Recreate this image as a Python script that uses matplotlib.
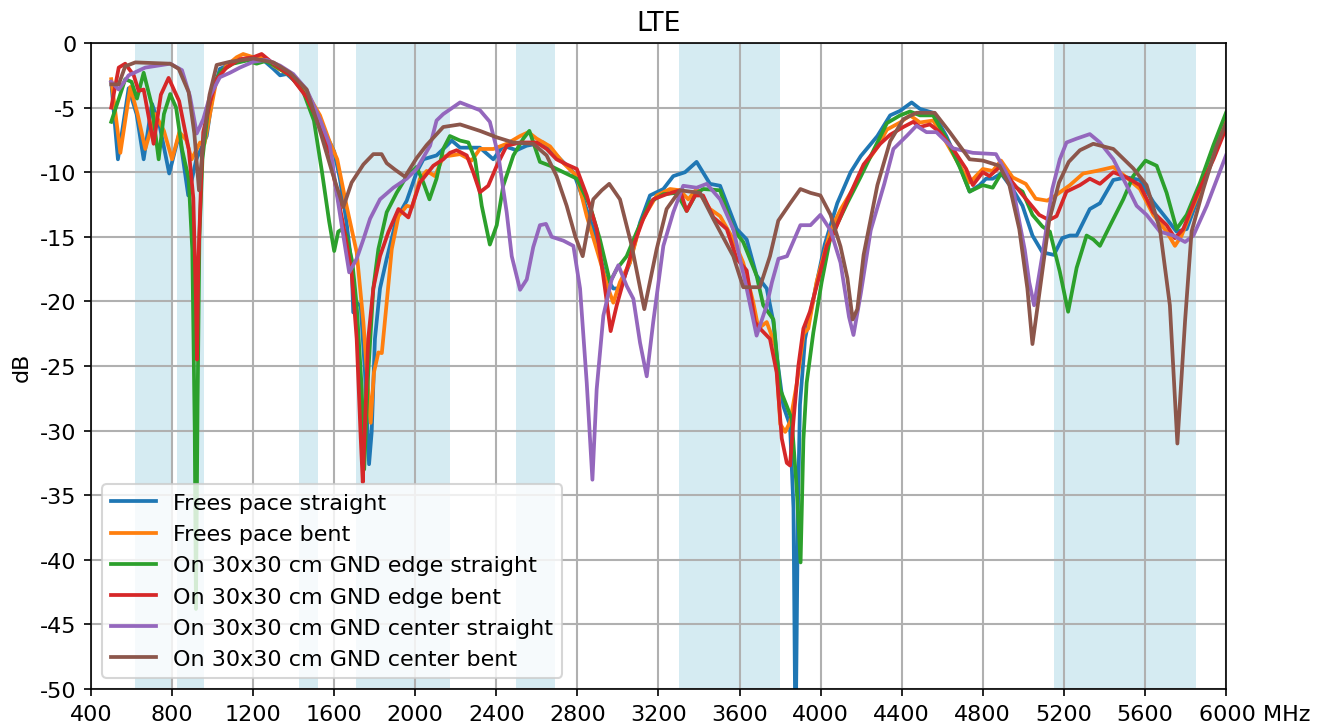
import matplotlib

matplotlib.use("Agg")
import matplotlib.pyplot as plt
from matplotlib.transforms import ScaledTranslation

# LTE frequency ranges shaded in the background (MHz)
LTE_BANDS = [(617, 803), (824, 960), (1427, 1518), (1710, 2170),
             (2496, 2690), (3300, 3800), (5150, 5850)]

# (frequency MHz, dB)
FS_STRAIGHT = [
    (500, -3.0), (533, -9.0), (586, -3.5), (625, -5.5), (660, -9.0), (701, -4.7), (740, -6.5),
    (786, -10.1), (836, -7.0), (880, -11.8), (920, -9.0), (971, -7.2), (1003, -3.8), (1036, -2.0),
    (1102, -1.55), (1168, -1.3), (1234, -1.1), (1300, -2.0), (1333, -2.5), (1366, -2.4),
    (1431, -3.3), (1497, -4.85), (1563, -7.2), (1600, -8.4), (1628, -10.5), (1661, -13.9),
    (1686, -17.2), (1694, -20.85), (1711, -20.1), (1731, -20.35), (1752, -25.5), (1772, -32.6),
    (1785, -30.1), (1801, -22.9), (1826, -19.0), (1859, -16.7), (1908, -13.6), (1958, -12.2),
    (2007, -10.0), (2040, -9.0), (2105, -8.7), (2155, -7.95), (2180, -7.55), (2221, -8.1),
    (2319, -8.1), (2385, -9.0), (2434, -7.95), (2500, -8.3), (2549, -7.95), (2632, -7.7),
    (2697, -8.7), (2780, -10.0), (2829, -12.1), (2878, -14.4), (2936, -18.0), (2977, -19.0),
    (3010, -19.0), (3059, -17.0), (3109, -13.9), (3158, -11.8), (3224, -11.3), (3273, -10.3),
    (3331, -10.0), (3388, -9.2), (3454, -10.9), (3504, -11.05), (3586, -14.4), (3635, -15.2),
    (3684, -18.0), (3734, -19.0), (3767, -21.6), (3783, -24.2), (3816, -28.1), (3849, -29.6),
    (3866, -36.0), (3876, -55.0), (3888, -36.0), (3898, -28.0), (3923, -22.9), (3964, -19.8),
    (4020, -15.6), (4082, -12.4), (4148, -10.0), (4198, -8.75), (4280, -7.2), (4343, -5.6),
    (4392, -5.25), (4449, -4.6), (4490, -5.1), (4555, -5.4), (4620, -7.2), (4686, -9.5),
    (4735, -11.5), (4784, -11.0), (4816, -10.5), (4849, -10.5), (4890, -10.1), (4947, -11.3),
    (4996, -12.6), (5045, -14.9), (5094, -16.2), (5151, -16.4), (5192, -15.1), (5230, -14.9),
    (5263, -14.9), (5328, -12.85), (5378, -12.4), (5444, -10.6), (5509, -10.4), (5575, -10.6),
    (5641, -12.3), (5707, -13.6), (5756, -14.6), (5806, -14.4), (5872, -11.55), (5938, -8.2),
    (6000, -5.7),
]

FS_BENT = [
    (500, -2.8), (545, -8.5), (594, -3.4), (630, -5.5), (668, -8.2), (717, -5.5), (760, -6.8),
    (800, -9.0), (836, -6.9), (870, -7.5), (897, -9.0), (938, -7.7), (960, -7.8), (995, -4.85),
    (1020, -2.8), (1069, -1.75), (1119, -1.1), (1151, -0.85), (1201, -1.1), (1250, -1.0),
    (1300, -1.75), (1382, -2.5), (1464, -3.8), (1530, -5.6), (1579, -7.7), (1615, -9.0),
    (1661, -12.6), (1711, -16.2), (1744, -21.6), (1768, -27.0), (1780, -29.4), (1796, -25.5),
    (1818, -23.95), (1835, -24.0), (1859, -20.1), (1884, -15.95), (1917, -13.4), (1958, -12.6),
    (1985, -12.7), (2023, -10.5), (2056, -9.9), (2097, -10.3), (2138, -8.8), (2221, -8.6),
    (2278, -9.1), (2319, -8.2), (2385, -8.2), (2451, -7.8), (2517, -7.2), (2558, -6.9),
    (2599, -7.4), (2665, -8.0), (2731, -9.3), (2797, -10.3), (2846, -13.4), (2895, -15.95),
    (2952, -19.0), (2977, -20.1), (3010, -18.5), (3059, -17.0), (3109, -14.1), (3142, -13.1),
    (3191, -11.8), (3257, -11.3), (3306, -11.4), (3347, -12.1), (3388, -11.3), (3454, -12.85),
    (3504, -13.4), (3569, -15.2), (3618, -17.0), (3668, -20.1), (3693, -22.1), (3734, -21.6),
    (3776, -23.4), (3801, -29.5), (3825, -30.1), (3850, -29.3), (3883, -26.3), (3916, -22.5),
    (3939, -22.1), (3980, -18.5), (4049, -14.5), (4098, -12.9), (4163, -11.2), (4212, -9.6),
    (4278, -8.1), (4327, -6.7), (4392, -6.15), (4441, -5.6), (4490, -6.15), (4555, -6.0),
    (4620, -7.7), (4686, -9.5), (4735, -10.8), (4800, -9.75), (4849, -9.9), (4890, -9.1),
    (4947, -10.4), (5012, -10.9), (5061, -12.05), (5118, -12.2), (5159, -11.8), (5230, -11.0),
    (5295, -10.1), (5361, -9.9), (5444, -9.6), (5509, -10.4), (5575, -11.3), (5641, -13.3),
    (5707, -14.6), (5748, -15.7), (5781, -14.9), (5839, -12.6), (5921, -9.5), (6000, -6.0),
]

EDGE_STRAIGHT = [
    (500, -6.1), (569, -2.8), (600, -3.0), (627, -4.3), (660, -2.3), (700, -4.8), (734, -9.0),
    (760, -5.5), (791, -3.95), (820, -5.0), (849, -8.2), (882, -10.5), (900, -16.0), (912, -30.0),
    (918, -43.8), (926, -28.0), (935, -15.0), (950, -9.0), (975, -5.5), (1005, -3.2), (1040, -2.2),
    (1100, -1.6), (1170, -1.35), (1217, -1.6), (1260, -1.4), (1300, -1.7), (1382, -2.5),
    (1448, -3.8), (1500, -6.0), (1540, -10.0), (1575, -13.8), (1600, -16.1), (1620, -14.6),
    (1640, -14.4), (1661, -14.9), (1690, -17.0), (1711, -20.35), (1736, -26.8), (1748, -33.0),
    (1768, -25.5), (1793, -19.0), (1818, -15.95), (1859, -13.1), (1908, -11.6), (1958, -10.3),
    (2007, -9.6), (2040, -10.8), (2070, -12.1), (2105, -10.5), (2138, -8.2), (2171, -7.2),
    (2221, -7.55), (2262, -7.7), (2295, -9.0), (2328, -12.6), (2368, -15.6), (2402, -14.1),
    (2434, -11.05), (2484, -8.7), (2533, -7.4), (2563, -6.8), (2615, -9.2), (2665, -9.5),
    (2731, -10.0), (2797, -10.5), (2862, -12.6), (2911, -15.2), (2961, -18.5), (2994, -17.5),
    (3043, -16.5), (3092, -14.65), (3158, -12.3), (3224, -11.7), (3290, -11.6), (3339, -13.0),
    (3388, -11.6), (3421, -11.3), (3504, -11.4), (3569, -14.4), (3618, -15.4), (3684, -18.0),
    (3717, -20.3), (3767, -21.4), (3800, -26.8), (3833, -28.1), (3857, -29.1), (3882, -34.5),
    (3901, -40.2), (3915, -30.7), (3931, -26.3), (3964, -22.4), (4005, -18.5), (4046, -15.2),
    (4131, -12.4), (4196, -10.4), (4261, -8.3), (4327, -6.2), (4392, -5.6), (4441, -5.3),
    (4490, -5.6), (4555, -5.6), (4620, -7.4), (4686, -9.6), (4735, -11.5), (4800, -11.0),
    (4849, -11.2), (4890, -10.1), (4947, -11.0), (4996, -11.5), (5045, -13.3), (5094, -14.2),
    (5131, -14.6), (5180, -17.7), (5221, -20.8), (5263, -17.4), (5312, -14.9), (5345, -15.2),
    (5378, -15.7), (5427, -14.15), (5493, -12.1), (5542, -10.3), (5603, -9.1), (5658, -9.5),
    (5707, -11.6), (5756, -14.4), (5806, -13.3), (5872, -10.8), (5938, -7.9), (6000, -5.4),
]

EDGE_BENT = [
    (500, -5.0), (537, -1.9), (569, -1.6), (611, -2.5), (635, -3.7), (660, -3.6), (709, -7.8),
    (745, -4.0), (783, -2.7), (835, -4.5), (882, -8.2), (905, -12.0), (918, -20.0), (923, -24.5),
    (930, -17.0), (945, -10.0), (954, -6.9), (987, -4.6), (1020, -2.8), (1069, -1.9),
    (1135, -1.25), (1201, -1.1), (1242, -0.85), (1300, -1.6), (1382, -2.5), (1464, -4.2),
    (1530, -6.4), (1579, -8.5), (1600, -10.5), (1645, -14.1), (1686, -17.75), (1711, -22.9),
    (1731, -30.6), (1741, -34.0), (1752, -29.4), (1768, -22.9), (1793, -19.0), (1826, -16.5),
    (1867, -14.65), (1917, -12.85), (1966, -13.5), (2023, -10.8), (2089, -9.5), (2138, -9.0),
    (2171, -8.5), (2204, -8.3), (2254, -8.7), (2286, -10.0), (2319, -11.55), (2360, -11.05),
    (2402, -9.5), (2451, -7.95), (2517, -7.7), (2599, -7.7), (2648, -8.2), (2697, -9.0),
    (2747, -9.4), (2797, -9.75), (2846, -11.8), (2895, -14.4), (2936, -19.0), (2964, -22.3),
    (2994, -20.3), (3026, -18.5), (3076, -15.7), (3125, -13.6), (3174, -12.1), (3240, -11.7),
    (3306, -11.4), (3339, -13.0), (3380, -11.8), (3420, -11.8), (3471, -13.5), (3537, -14.4),
    (3586, -16.7), (3635, -17.6), (3676, -21.6), (3701, -22.1), (3750, -22.9), (3783, -25.5),
    (3808, -30.6), (3833, -32.5), (3849, -32.7), (3865, -29.4), (3890, -25.0), (3915, -22.1),
    (3947, -20.8), (3989, -18.3), (4030, -15.7), (4065, -14.7), (4131, -12.2), (4212, -9.4),
    (4294, -7.8), (4343, -7.1), (4408, -6.5), (4457, -6.1), (4490, -6.5), (4539, -6.3),
    (4588, -6.9), (4653, -8.2), (4718, -9.75), (4751, -11.0), (4800, -10.0), (4833, -10.3),
    (4890, -9.5), (4947, -10.8), (5012, -12.05), (5078, -13.3), (5127, -13.7), (5164, -13.4),
    (5213, -11.5), (5279, -11.0), (5328, -10.5), (5378, -10.9), (5444, -10.0), (5509, -10.4),
    (5575, -11.0), (5641, -13.1), (5707, -14.1), (5748, -15.1), (5789, -14.4), (5855, -11.8),
    (5938, -9.0), (6000, -6.6),
]

CENTER_STRAIGHT = [
    (500, -3.0), (537, -3.6), (586, -2.5), (668, -1.9), (791, -1.6), (849, -2.1), (888, -4.1),
    (922, -7.0), (954, -5.9), (987, -4.1), (1036, -2.65), (1086, -2.3), (1135, -1.9),
    (1201, -1.45), (1267, -1.3), (1333, -1.75), (1398, -2.4), (1464, -3.6), (1530, -5.9),
    (1579, -7.95), (1612, -11.6), (1645, -14.9), (1674, -17.75), (1711, -16.7), (1744, -15.2),
    (1777, -13.6), (1826, -12.1), (1892, -11.2), (1958, -10.5), (2007, -9.75), (2073, -7.95),
    (2105, -6.0), (2138, -5.5), (2221, -4.6), (2319, -5.2), (2368, -6.1), (2410, -8.7),
    (2434, -11.3), (2451, -13.1), (2476, -16.5), (2517, -19.1), (2550, -18.3), (2582, -15.8),
    (2615, -14.1), (2645, -14.0), (2673, -15.0), (2731, -15.3), (2780, -15.7), (2813, -19.0),
    (2846, -26.3), (2874, -33.8), (2895, -26.8), (2928, -21.1), (2969, -18.3), (3002, -17.2),
    (3043, -18.8), (3076, -19.8), (3109, -23.2), (3142, -25.8), (3174, -21.6), (3224, -15.7),
    (3273, -13.1), (3322, -11.05), (3388, -11.2), (3438, -10.9), (3504, -12.1), (3569, -14.4),
    (3635, -19.0), (3684, -22.65), (3734, -20.3), (3760, -18.5), (3792, -16.7), (3834, -16.5),
    (3900, -14.1), (3950, -14.1), (3999, -13.3), (4049, -14.5), (4098, -17.0), (4140, -21.2),
    (4162, -22.6), (4198, -19.4), (4247, -14.5), (4314, -10.9), (4359, -8.2), (4424, -7.2),
    (4473, -6.4), (4522, -6.9), (4571, -6.9), (4653, -8.15), (4751, -8.5), (4865, -8.6),
    (4914, -10.0), (4950, -11.3), (4980, -13.8), (5007, -16.0), (5029, -18.5), (5053, -20.3),
    (5094, -16.4), (5143, -11.3), (5180, -9.0), (5213, -7.7), (5263, -7.4), (5328, -7.05),
    (5378, -7.7), (5444, -9.0), (5509, -11.0), (5559, -12.6), (5608, -13.3), (5674, -14.6),
    (5740, -14.9), (5798, -15.4), (5839, -14.9), (5905, -12.6), (6000, -8.7),
]

CENTER_BENT = [
    (500, -3.2), (537, -3.2), (569, -1.8), (619, -1.5), (791, -1.6), (833, -2.0), (882, -3.8),
    (910, -7.0), (933, -11.4), (955, -7.5), (985, -4.0), (1020, -1.7), (1086, -1.45),
    (1201, -1.2), (1300, -1.5), (1382, -2.3), (1464, -3.6), (1530, -6.8), (1590, -10.0),
    (1645, -12.7), (1686, -10.8), (1744, -9.4), (1793, -8.6), (1834, -8.6), (1859, -9.3),
    (1900, -9.8), (1949, -10.35), (2007, -8.9), (2056, -7.9), (2138, -6.5), (2221, -6.3),
    (2319, -6.8), (2402, -7.3), (2484, -7.7), (2582, -7.8), (2648, -8.7), (2697, -10.3),
    (2747, -12.6), (2790, -15.0), (2826, -16.5), (2878, -12.1), (2920, -11.4), (2957, -10.9),
    (3010, -12.1), (3068, -15.7), (3130, -20.6), (3191, -15.95), (3240, -12.85), (3306, -11.4),
    (3405, -11.6), (3470, -13.6), (3569, -16.5), (3618, -18.9), (3700, -18.9), (3750, -16.5),
    (3791, -13.75), (3850, -12.4), (3900, -11.3), (3950, -11.6), (3999, -11.8), (4049, -13.3),
    (4098, -15.75), (4132, -18.2), (4158, -21.4), (4181, -20.6), (4212, -16.4), (4280, -11.0),
    (4343, -7.6), (4408, -5.9), (4473, -5.4), (4563, -5.4), (4637, -6.9), (4735, -9.0),
    (4800, -9.1), (4882, -9.5), (4931, -11.0), (4980, -14.4), (5020, -19.0), (5045, -23.3),
    (5078, -19.5), (5127, -13.8), (5176, -10.8), (5224, -9.2), (5279, -8.3), (5345, -7.8),
    (5444, -8.2), (5542, -9.7), (5608, -11.0), (5674, -14.4), (5723, -20.3), (5760, -31.0),
    (5798, -21.5), (5830, -14.6), (5888, -11.3), (5954, -7.95), (6000, -6.2),
]

SERIES = [
    ("Frees pace straight", FS_STRAIGHT),
    ("Frees pace bent", FS_BENT),
    ("On 30x30 cm GND edge straight", EDGE_STRAIGHT),
    ("On 30x30 cm GND edge bent", EDGE_BENT),
    ("On 30x30 cm GND center straight", CENTER_STRAIGHT),
    ("On 30x30 cm GND center bent", CENTER_BENT),
]

X_TICKS = list(range(400, 6001, 400))
Y_TICKS = list(range(-50, 1, 5))

plt.rcParams["axes.unicode_minus"] = False
plt.rcParams["font.size"] = 10.7

fig, ax = plt.subplots(figsize=(8.84, 4.853), dpi=150)
fig.subplots_adjust(left=0.0686, right=0.9246, bottom=0.0522, top=0.9396)

for lo, hi in LTE_BANDS:
    ax.axvspan(lo, hi, color="lightblue", alpha=0.5, lw=0)

for label, points in SERIES:
    freqs, gains = zip(*points)
    ax.plot(freqs, gains, lw=1.8, label=label)

ax.set_xlim(400, 6000)
ax.set_ylim(-50, 0)
ax.set_xticks(X_TICKS)
ax.set_xticklabels([str(t) for t in X_TICKS[:-1]] + [f"{X_TICKS[-1]} MHz"])
# keep the number of the last label centred on its tick, unit hanging to the right
last = ax.get_xticklabels()[-1]
last.set_transform(last.get_transform() + ScaledTranslation(0.19, 0, fig.dpi_scale_trans))
ax.set_yticks(Y_TICKS)
ax.grid(True, lw=1.0)
ax.set_ylabel("dB")
ax.set_title("LTE")
ax.legend(loc="lower left")

fig.savefig("out.png", dpi=150)
